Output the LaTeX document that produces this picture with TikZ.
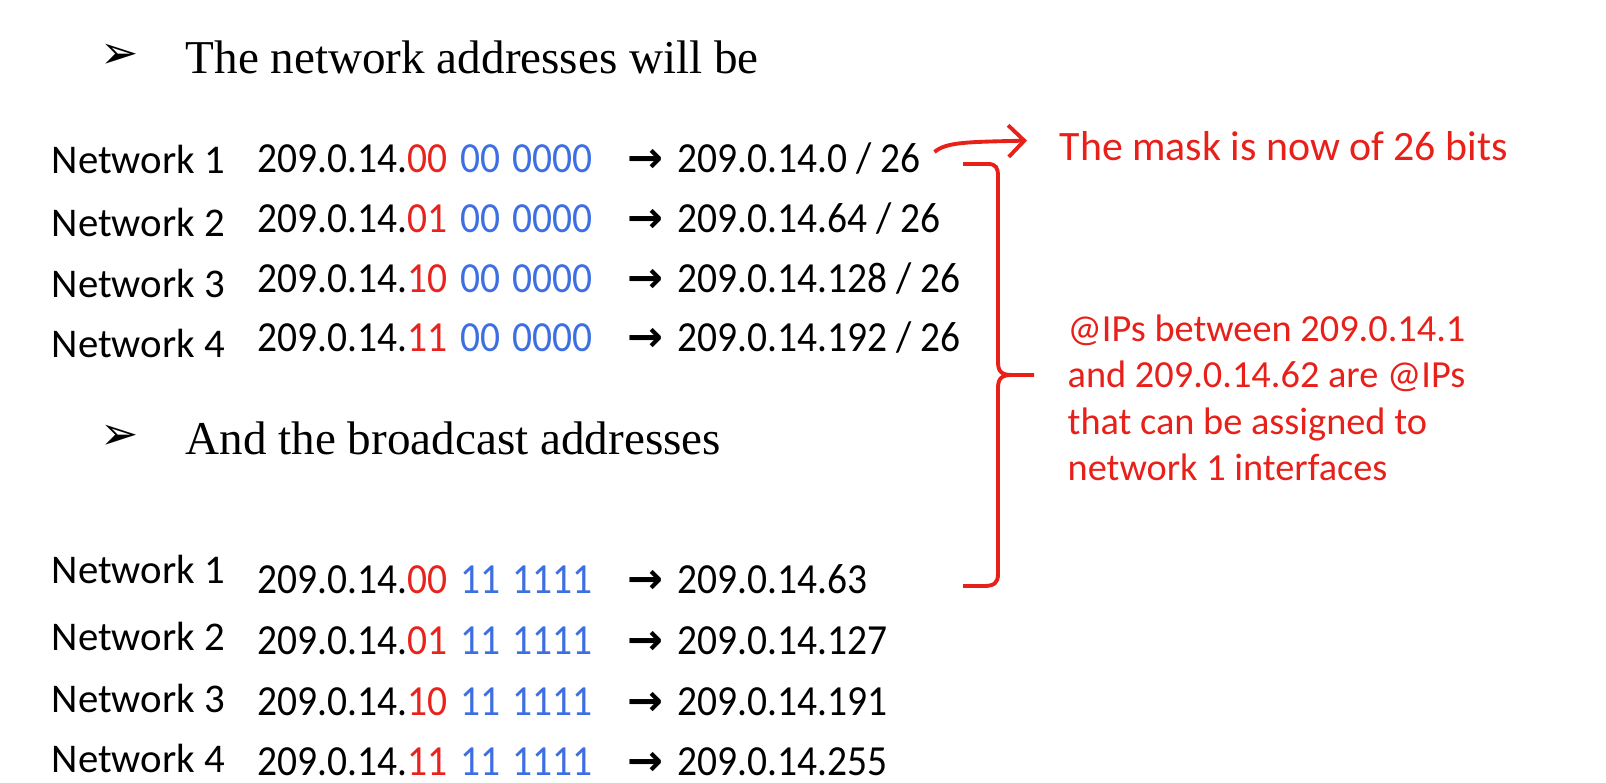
\documentclass[tikz,border=0pt]{standalone}
\usepackage{fontspec}
\setmainfont{Liberation Serif}
\newfontfamily\calfont{Carlito}
\newfontfamily\addrfont[FakeStretch=0.92]{Carlito}
\newfontfamily\symfont{DejaVu Sans}
\usepackage{xcolor}
\usepackage{tikz}
\usetikzlibrary{arrows.meta, calc}
\definecolor{bitred}{HTML}{E8221C}
\definecolor{bitblue}{HTML}{3D6FE3}
\definecolor{notered}{HTML}{E8201A}
\newcommand{\rbits}[1]{\textcolor{bitred}{#1}}
\newcommand{\bbits}[2]{\hspace{1pt}\textcolor{bitblue}{#1\hspace{3.6pt}#2}}
\newcommand{\toarrow}{{\symfont\bfseries →}\hspace{4pt}}

\begin{document}
\begin{tikzpicture}[x=0.01cm, y=-0.01cm,
        every node/.style={inner sep=0pt, anchor=base west},
        heading/.style={font=\fontsize{13.4}{16}\selectfont},
        bullet/.style={font=\symfont\fontsize{13}{15}\selectfont},
        netlabel/.style={font=\calfont\fontsize{11.6}{13}\selectfont},
        addr/.style={font=\addrfont\fontsize{12.2}{14}\selectfont},
        note/.style={font=\calfont\fontsize{10.9}{13.23}\selectfont,
          text=notered, align=left},
        redline/.style={draw=notered, line width=1.1pt}
      ]
        \useasboundingbox (0,0) rectangle (1606,783);
        \node[bullet] (b1) at (100,69) {➢};
        \node[heading] (h1) at (185,74) {The network addresses will be};
        \node[bullet] (b2) at (100,450) {➢};
        \node[heading] (h2) at (185,455) {And the broadcast addresses};

        \node[netlabel] (n1) at (51,174) {Network 1};
        \node[addr] (a1) at (257,173) {209.0.14.\rbits{00} \bbits{00}{0000}};
        \node[addr] (r1) at (627,173) {\toarrow 209.0.14.0 / 26};
        \node[netlabel] (n2) at (51,237) {Network 2};
        \node[addr] (a2) at (257,233) {209.0.14.\rbits{01} \bbits{00}{0000}};
        \node[addr] (r2) at (627,233) {\toarrow 209.0.14.64 / 26};
        \node[netlabel] (n3) at (51,298) {Network 3};
        \node[addr] (a3) at (257,293) {209.0.14.\rbits{10} \bbits{00}{0000}};
        \node[addr] (r3) at (627,293) {\toarrow 209.0.14.128 / 26};
        \node[netlabel] (n4) at (51,358) {Network 4};
        \node[addr] (a4) at (257,352) {209.0.14.\rbits{11} \bbits{00}{0000}};
        \node[addr] (r4) at (627,352) {\toarrow 209.0.14.192 / 26};

        \node[netlabel] (m1) at (51,584) {Network 1};
        \node[addr] (c1) at (257,594) {209.0.14.\rbits{00} \bbits{11}{1111}};
        \node[addr] (s1) at (627,594) {\toarrow 209.0.14.63};
        \node[netlabel] (m2) at (51,651) {Network 2};
        \node[addr] (c2) at (257,655) {209.0.14.\rbits{01} \bbits{11}{1111}};
        \node[addr] (s2) at (627,655) {\toarrow 209.0.14.127};
        \node[netlabel] (m3) at (51,713) {Network 3};
        \node[addr] (c3) at (257,716) {209.0.14.\rbits{10} \bbits{11}{1111}};
        \node[addr] (s3) at (627,716) {\toarrow 209.0.14.191};
        \node[netlabel] (m4) at (51,773) {Network 4};
        \node[addr] (c4) at (257,776) {209.0.14.\rbits{11} \bbits{11}{1111}};
        \node[addr] (s4) at (627,776) {\toarrow 209.0.14.255};

        \node[note, font=\calfont\fontsize{11.9}{14}\selectfont] (mask) at (1059,161)
          {The mask is now of 26 bits};
        \node[note] (range) at (1067,481)
          {@IPs between 209.0.14.1\\and 209.0.14.62 are @IPs\\that can be assigned to\\network 1 interfaces};

        \draw[redline, -{Straight Barb[length=4.5pt, width=9pt]}]
          ($(r1.east)+(13,-7)$) .. controls ($(r1.east)+(25,-17)$) and ($(r1.east)+(45,-17)$)
          .. ($(mask.west)+(-32,-6)$);
        \draw[redline] (963,164) -- (988,164) .. controls (996,164) and (998,168) .. (998,176)
          -- (998,362) .. controls (998,372) and (1002,375) .. (1012,375) -- (1034,375);
        \draw[redline] (1012,375) .. controls (1002,375) and (998,378) .. (998,388)
          -- (998,574) .. controls (998,583) and (994,586) .. (984,586) -- (963,586);
      \end{tikzpicture}
\end{document}
